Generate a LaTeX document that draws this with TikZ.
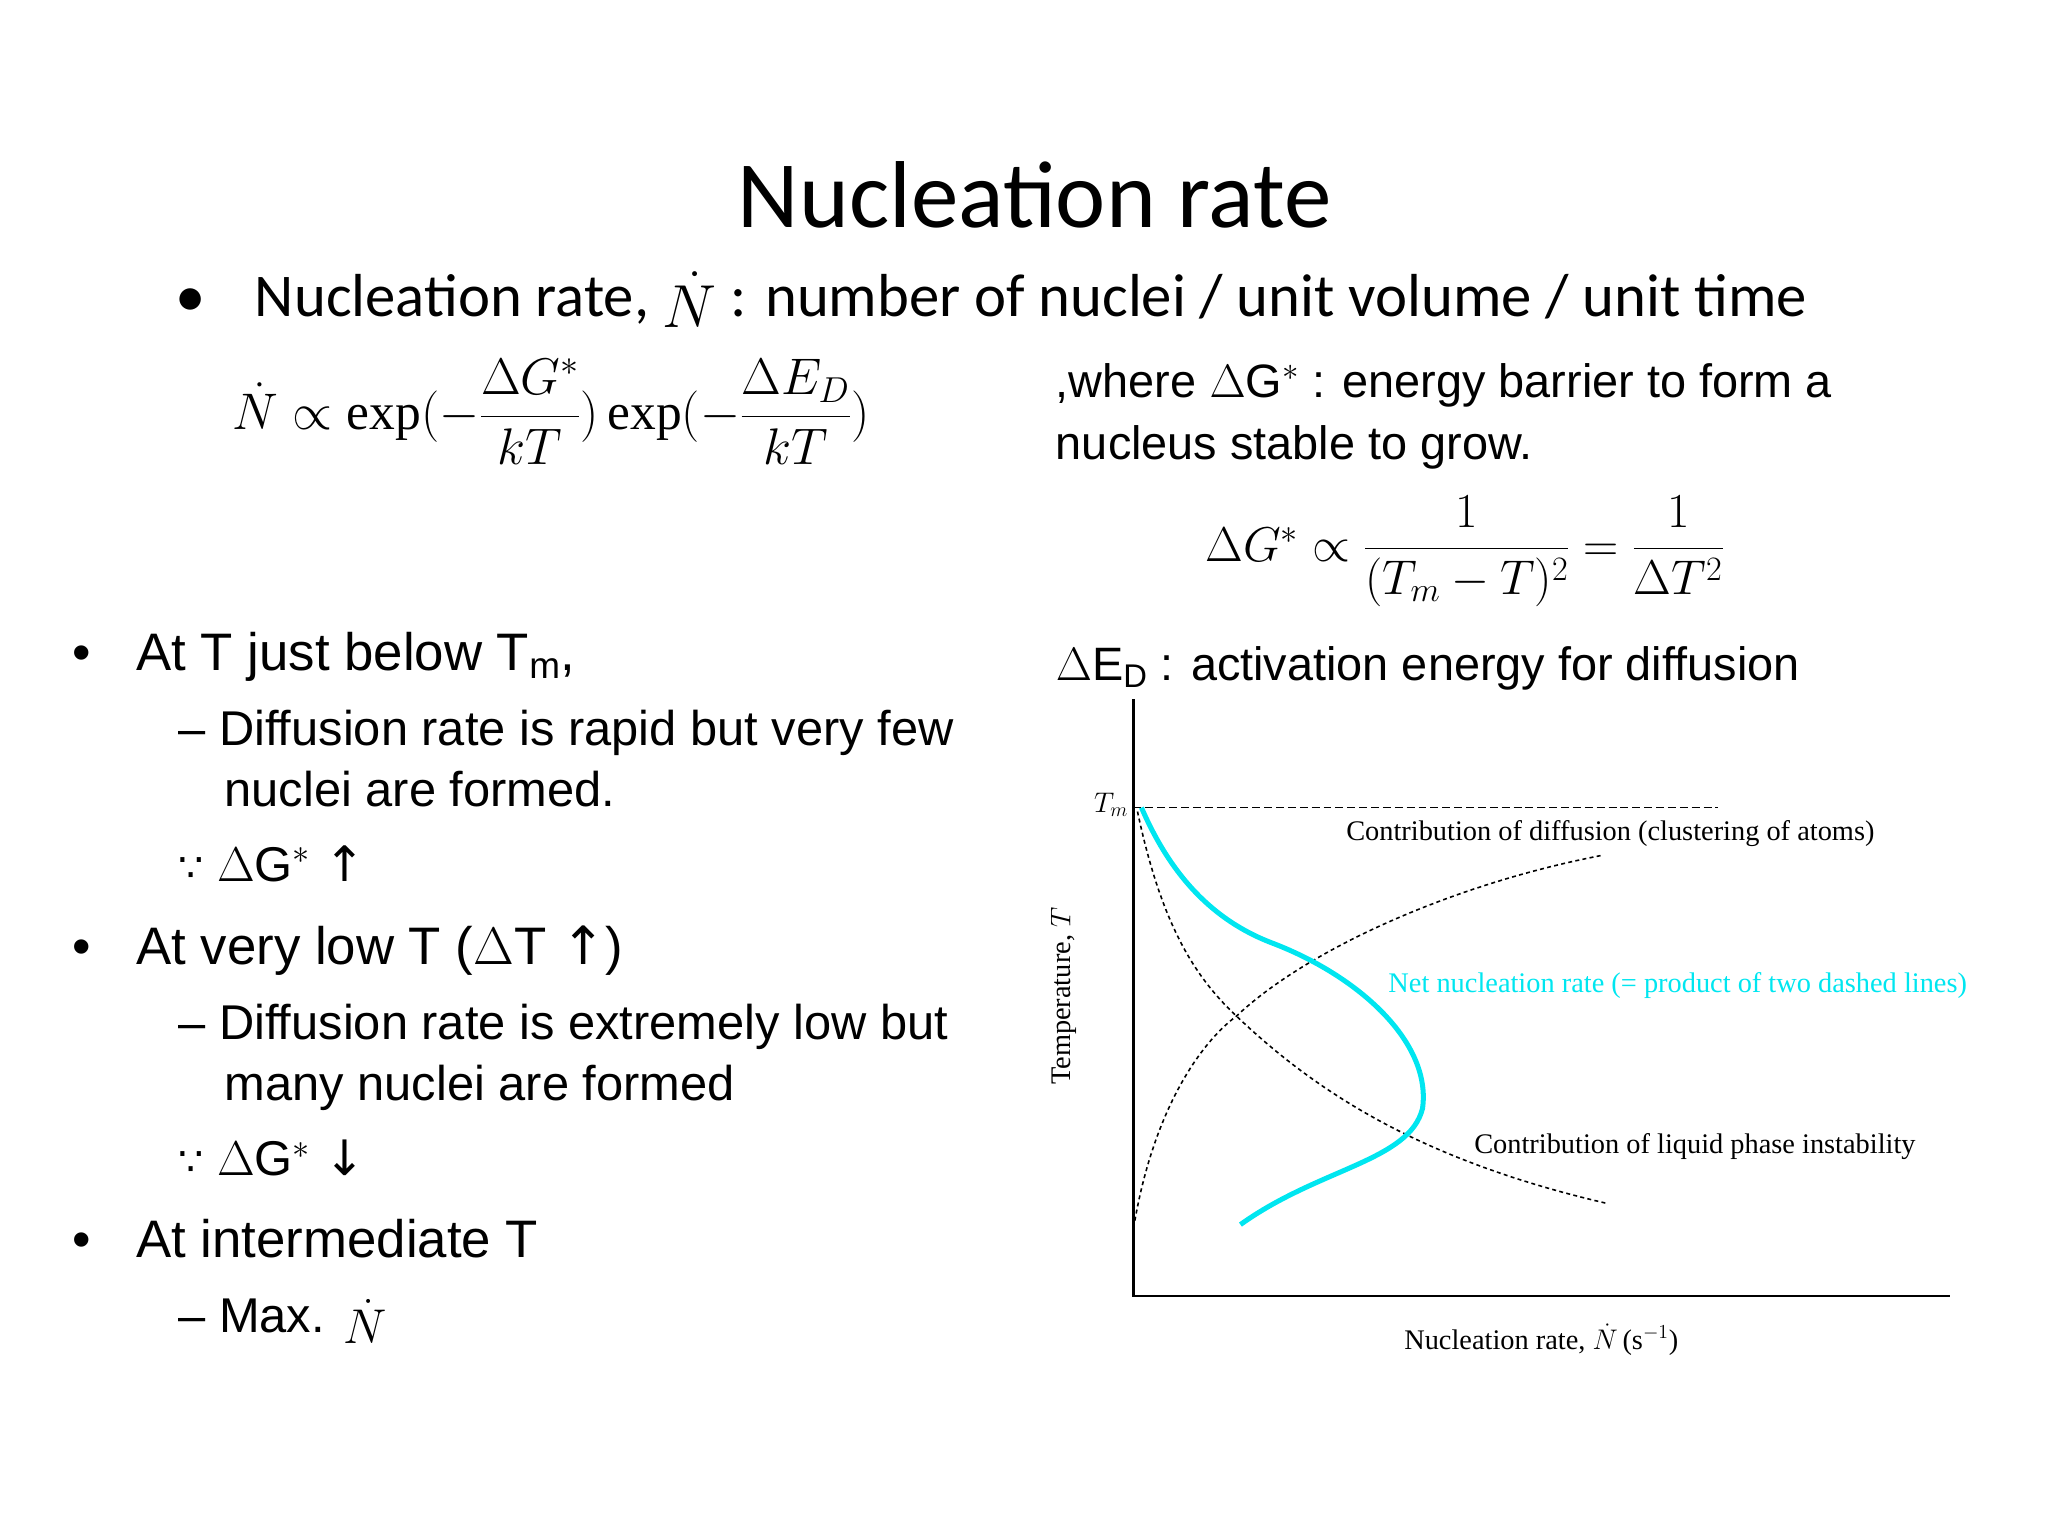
\documentclass[tikz,border=0pt]{standalone}
\usepackage{fix-cm}
\usepackage{amsmath}
\usepackage{fontspec}
\setmainfont{Liberation Sans}
\newfontfamily\calfont{Carlito}
\newfontfamily\tmsfont{Liberation Serif}
\newfontfamily\djfont{DejaVu Sans}
\definecolor{netcyan}{RGB}{0,230,240}
\begin{document}
\begin{tikzpicture}[x=1pt,y=-1pt,
  txt/.style={anchor=base west,inner sep=0,font=\fontsize{37}{44}\selectfont},
  rtxt/.style={anchor=base west,inner sep=0,font=\fontsize{35.5}{42}\selectfont},
  big/.style={anchor=base west,inner sep=0,font=\fontsize{40}{48}\selectfont},
  small/.style={inner sep=0,font=\tmsfont\fontsize{21.5}{24}\selectfont},
  dsh/.style={dash pattern=on 6pt off 3pt,line width=1.3pt},
  dsh2/.style={dash pattern=on 3pt off 2.5pt,line width=1.2pt}]
\useasboundingbox (0,0) rectangle (1552,1164);
\node[inner sep=0,font=\calfont\fontsize{72}{80}\selectfont] (title) at (784,148) {Nucleation rate};
\node[big,font=\calfont\fontsize{46}{52}\selectfont] (b0) at (133,240) {\textbullet};
\node[big,font=\calfont\fontsize{46}{52}\selectfont] (l0) at (193,240) {Nucleation rate, \raisebox{-8pt}{$\dot N$} : number of nuclei / unit volume / unit time};
\node[anchor=west,inner sep=0,font=\fontsize{39}{44}\selectfont] (eq1) at (176,312) {$\dot N \propto \text{\tmsfont exp}(-\dfrac{\Delta G^*}{kT})\,\text{\tmsfont exp}(-\dfrac{\Delta E_D}{kT})$};
\node[rtxt] (w1) at (800,301) {,where $\Delta$G$^*$ : energy barrier to form a};
\node[rtxt] (w2) at (800,348) {nucleus stable to grow.};
\node[inner sep=0,font=\fontsize{37}{40}\selectfont] (eq2) at (1110,418) {$\Delta G^* \propto \dfrac{1}{(T_m-T)^2} = \dfrac{1}{\Delta T^2}$};
\node[rtxt] (ed) at (800,516) {$\Delta$E$_\mathrm{D}$ : activation energy for diffusion};
% left bullets
\node[big] at (55,508) {\textbullet};
\node[big] (a1) at (103,508) {At T just below T$_\mathrm{m}$,};
\node[txt] at (135,565) {– Diffusion rate is rapid but very few};
\node[txt] at (170,611) {nuclei are formed.};
\node[txt] at (135,668) {{\djfont\fontsize{30}{36}\selectfont ∵} $\Delta$G$^*$ {\djfont ↑}};
\node[big] at (55,731) {\textbullet};
\node[big] (a2) at (103,731) {At very low T ($\Delta$T {\djfont ↑})};
\node[txt] at (135,788) {– Diffusion rate is extremely low but};
\node[txt] at (170,834) {many nuclei are formed};
\node[txt] at (135,891) {{\djfont\fontsize{30}{36}\selectfont ∵} $\Delta$G$^*$ {\djfont ↓}};
\node[big] at (55,953) {\textbullet};
\node[big] (a3) at (103,953) {At intermediate T};
\node[txt] at (135,1010) {– Max. \raisebox{-8pt}{$\dot N$}};
% plot
\coordinate (O) at (859,982);
\coordinate (Ytop) at (859,530);
\coordinate (Xend) at (1478,982);
\draw[line width=1.6pt] (Ytop) -- (O) -- (Xend);
\coordinate (tm) at (859,612);
\coordinate (tmend) at (1302,612);
\draw[dsh] (tm) -- (tmend);
\node[small,anchor=east] (tml) at (855,610) {$T_m$};
\draw[dsh2] (860,925) .. controls (875,840) and (910,790) .. (937,770)
  .. controls (990,720) and (1100,670) .. (1215,648);
\draw[dsh2] (862,615) .. controls (880,700) and (905,740) .. (937,770)
  .. controls (1000,830) and (1080,880) .. (1218,912);
\draw[netcyan,line width=3.8pt] (865,612) .. controls (890,670) and (925,700) .. (965,715)
  .. controls (1030,740) and (1085,790) .. (1078,840)
  .. controls (1068,880) and (1000,885) .. (940,928);
\node[small,rotate=90] (ylab) at (806,755) {Temperature, $T$};
\node[small] (xlab) at (1168,1015) {Nucleation rate, $\dot N$\,(s$^{-1}$)};
\node[small,anchor=west] (c1) at (1020,632) {Contribution of diffusion (clustering of atoms)};
\node[small,anchor=west,text=netcyan] (c2) at (1052,747) {Net nucleation rate (= product of two dashed lines)};
\node[small,anchor=west] (c3) at (1117,869) {Contribution of liquid phase instability};
\end{tikzpicture}
\end{document}
